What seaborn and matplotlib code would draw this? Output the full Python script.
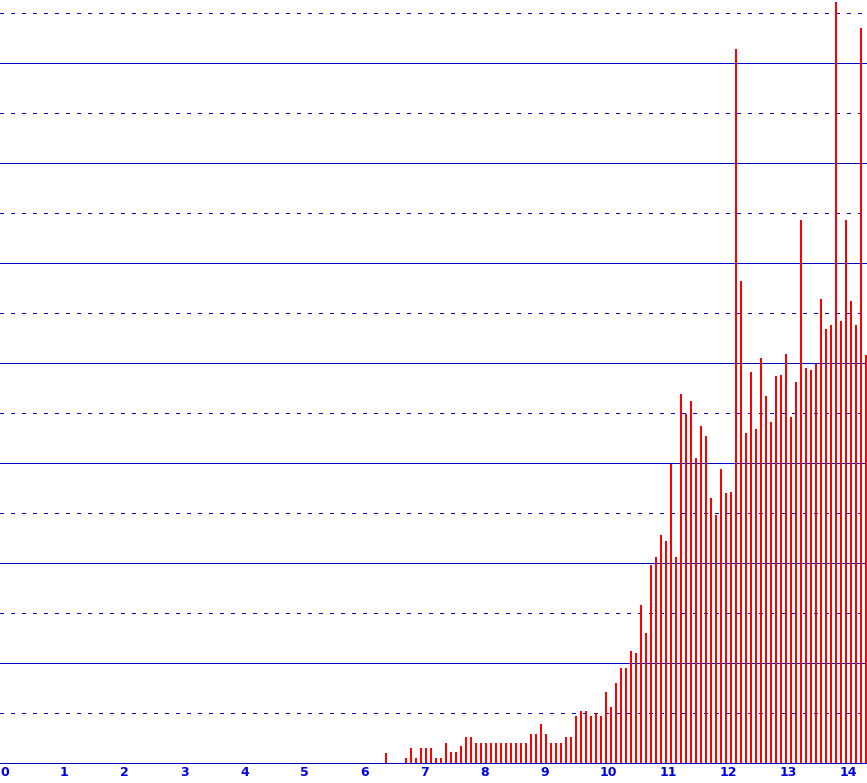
import numpy as np
import pandas as pd
import matplotlib
matplotlib.use("Agg")
import matplotlib.pyplot as plt
import seaborn as sns
from matplotlib.transforms import ScaledTranslation

# ---- data ----
bin_start = 6.375
bin_step = 1 / 12
heights = [10, 0, 0, 0, 5, 15, 5, 15, 15, 15, 5, 5, 20, 11, 11, 17, 26, 26, 20, 20,
           20, 20, 20, 20, 20, 20, 20, 20, 20, 29, 29, 39, 29, 20, 20, 20, 26, 26, 47, 52,
           52, 47, 50, 47, 71, 56, 80, 95, 95, 112, 110, 158, 130, 198, 206, 228, 222, 299, 206, 369,
           349, 362, 305, 337, 327, 265, 248, 294, 270, 271, 714, 482, 330, 391, 334, 405, 367, 341, 387, 388,
           409, 346, 381, 543, 395, 393, 399, 464, 434, 438, 761, 442, 543, 462, 438, 735, 408]
tick_values = list(range(15))
tick_labels = [str(v) for v in tick_values]
major_grid = list(range(100, 800, 100))
minor_grid = list(range(50, 800, 100))

BLUE_LINE = "#0000c8"
BLUE_TEXT = "#0000e6"
RED = "#ff0000"

sns.set_style("white")
fig = plt.figure(figsize=(8.67, 7.83), dpi=100)
ax = fig.add_axes([0, 20 / 783, 1, 763 / 783])

df = pd.DataFrame({"x": bin_start + bin_step * np.arange(len(heights)), "h": heights})
sns.barplot(data=df, x="x", y="h", native_scale=True, width=0.4, color=RED,
            saturation=1, linewidth=0, errorbar=None, ax=ax, zorder=3,
            antialiased=True, snap=False)

ax.set_xlim(-3.5 / 60, (867 - 3.5) / 60)
ax.set_ylim(0, 763)

ax.set_yticks(major_grid)
ax.set_yticks(minor_grid, minor=True)
ax.grid(axis="y", which="major", color=BLUE_LINE, lw=0.72, ls="-", antialiased=False)
ax.grid(axis="y", which="minor", color=BLUE_LINE, lw=0.72, ls=(0, (3, 7)), antialiased=False)
ax.grid(axis="x", which="both", visible=False)
ax.tick_params(axis="y", which="both", left=False, labelleft=False, length=0)

ax.set_xticks(tick_values)
ax.set_xticklabels(tick_labels)
ax.tick_params(axis="x", which="both", length=0, pad=2.5, labelsize=9, labelcolor=BLUE_TEXT)
offset = ScaledTranslation(-3.5 / 100, 0, fig.dpi_scale_trans)
for lab in ax.get_xticklabels():
    lab.set_ha("left")
    lab.set_fontweight("bold")
    lab.set_transform(lab.get_transform() + offset)

for s in ["top", "left", "right"]:
    ax.spines[s].set_visible(False)
ax.spines["bottom"].set_color(BLUE_LINE)
ax.spines["bottom"].set_linewidth(0.72)
ax.spines["bottom"].set_zorder(4)
ax.spines["bottom"].set_antialiased(False)
ax.set_xlabel("")
ax.set_ylabel("")

fig.savefig("out.png", dpi=100)
